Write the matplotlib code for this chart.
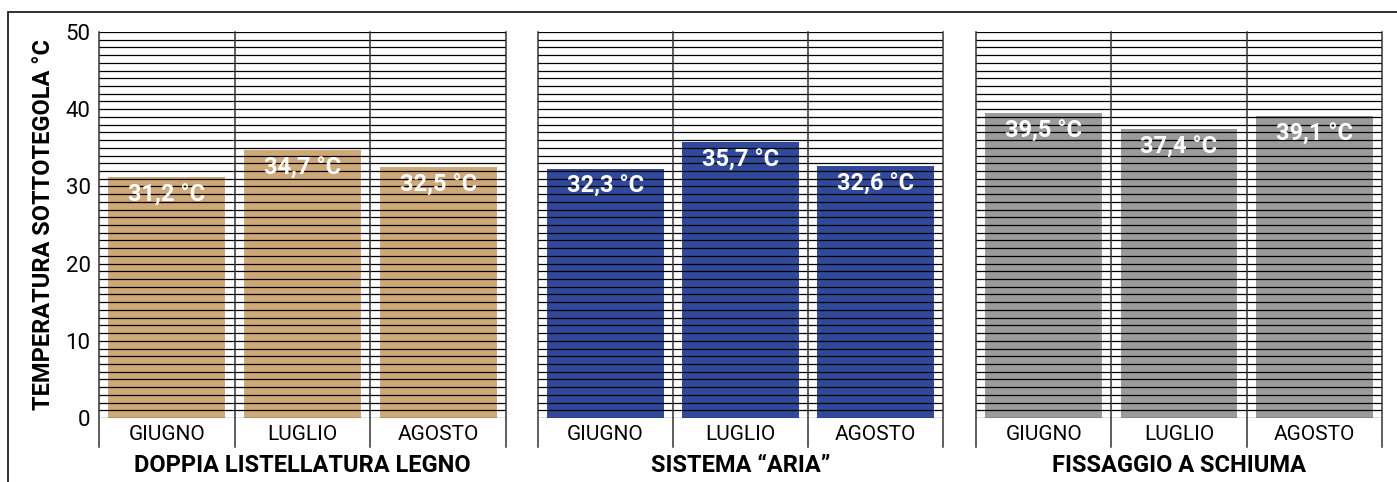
import matplotlib.pyplot as plt
from matplotlib.patches import Rectangle

plt.rcParams['font.family'] = ['Roboto', 'DejaVu Sans']

months = ["GIUGNO", "LUGLIO", "AGOSTO"]
groups = ["DOPPIA LISTELLATURA LEGNO", "SISTEMA \u201cARIA\u201d", "FISSAGGIO A SCHIUMA"]
legno = [31.2, 34.7, 32.5]
aria = [32.3, 35.7, 32.6]
schiuma = [39.5, 37.4, 39.1]
colors = ["#CFA877", "#30499A", "#9B9B9B"]
y_ticks = [0, 10, 20, 30, 40, 50]

W, H = 1397, 482
fig = plt.figure(figsize=(W / 100, H / 100), dpi=100)

# panel positions in pixels (left, right)
panels = [(99, 506), (538, 943), (976, 1382)]
top_px, bot_px = 32, 418

for (x0, x1), vals, name, col in zip(panels, [legno, aria, schiuma], groups, colors):
    ax = fig.add_axes([x0 / W, 1 - bot_px / H, (x1 - x0) / W, (bot_px - top_px) / H])
    xs = range(len(months))
    ax.bar(xs, vals, width=0.86, color=col, zorder=1)
    for y in range(0, 51):
        ax.axhline(y, color="black", lw=0.9, zorder=2)
    ext = -(447 - bot_px) / (bot_px - top_px)
    for xv in [-0.5, 0.5, 1.5, 2.5]:
        ax.axvline(xv, ymin=ext, ymax=1, color="#333333", lw=1.1, clip_on=False, zorder=3)
    for x, v in zip(xs, vals):
        ax.text(x, v - 2.3, f"{v:.1f} °C".replace(".", ","), ha="center", va="center",
                color="white", fontsize=17, fontweight="bold", zorder=4)
    ax.set_xlim(-0.5, 2.5)
    ax.set_ylim(0, 50)
    ax.set_xticks(list(xs))
    ax.set_xticklabels(months, fontsize=15)
    ax.tick_params(axis="x", length=0, pad=5)
    for s in ax.spines.values():
        s.set_visible(False)
    if x0 == panels[0][0]:
        ax.set_yticks(y_ticks)
        ax.tick_params(axis="y", length=0, labelsize=16, pad=6)
        ax.set_ylabel("TEMPERATURA SOTTOTEGOLA °C", fontsize=17, fontweight="bold", labelpad=8)
    else:
        ax.set_yticks([])
    ax.set_xlabel(name, fontsize=17, fontweight="bold", labelpad=7)

fig.patches.append(Rectangle((8 / W, -0.02), 1.05, 1 - 12 / H + 0.02, transform=fig.transFigure,
                             fill=False, edgecolor="#222222", lw=1.3))

fig.savefig("out.png", dpi=100)
